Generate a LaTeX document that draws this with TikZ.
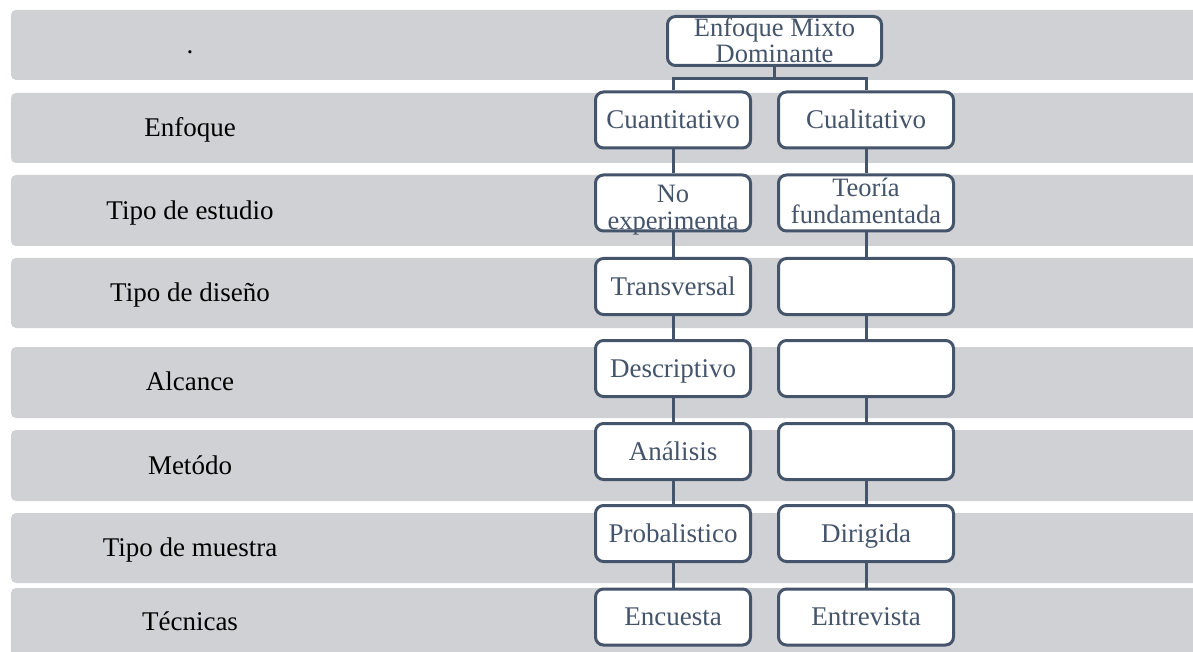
\documentclass[tikz,border=0pt]{standalone}
\usepackage{fontspec}
\setmainfont{Liberation Serif}
\definecolor{bandgray}{HTML}{D0D1D5}
\definecolor{slate}{HTML}{44546A}
\begin{document}
\begin{tikzpicture}[x=1pt,y=-1pt,
  bandbox/.style={fill=bandgray, rounded corners=5pt},
  lbl/.style={font=\fontsize{27}{27}\selectfont, text=black, inner sep=0pt, text height=17.8pt, text depth=0pt},
  cbox/.style={draw=slate, line width=3pt, rounded corners=8pt, fill=white, inner sep=0pt, minimum height=56pt, font=\fontsize{27}{27}\selectfont, text=slate, text height=17.8pt, text depth=0pt},
  lbox/.style={cbox, minimum width=155pt},
  rbox/.style={cbox, minimum width=175pt},
  btxt/.style={font=\fontsize{26.5}{27}\selectfont, text=slate, inner sep=0pt, anchor=base},
  conn/.style={draw=slate, line width=3pt}]
\useasboundingbox (0,0) rectangle (1193,652);
\clip (0,0) rectangle (1193,652);
\fill[white] (0,0) rectangle (1193,652);
% bands
\fill[bandbox] (11,10) rectangle (1230,80);
\fill[bandbox] (11,93) rectangle (1230,163);
\fill[bandbox] (11,175) rectangle (1230,246);
\fill[bandbox] (11,258) rectangle (1230,328);
\fill[bandbox] (11,347) rectangle (1230,418);
\fill[bandbox] (11,430) rectangle (1230,501);
\fill[bandbox] (11,513) rectangle (1230,583);
\fill[bandbox] (11,588) rectangle (1230,660);
% row labels
\node[lbl] (l1) at (190,45) {.};
\node[lbl] (l2) at (190,128) {Enfoque};
\node[lbl] (l3) at (190,210.5) {Tipo de estudio};
\node[lbl] (l4) at (190,293) {Tipo de diseño};
\node[lbl] (l5) at (190,382) {Alcance};
\node[lbl] (l6) at (190,465.5) {Metódo};
\node[lbl] (l7) at (190,548) {Tipo de muestra};
\node[lbl] (l8) at (190,622) {Técnicas};
% top box
\node[cbox, minimum width=214pt, minimum height=49pt] (top) at (774.5,41) {};
\node[btxt] (topa) at (774.5,37) {Enfoque Mixto};
\node[btxt] (topb) at (774.5,63) {Dominante};
% left column
\node[lbox] (q2) at (673,120) {Cuantitativo};
\node[lbox] (q3) at (673,203) {};
\node[lbox] (q4) at (673,286.5) {Transversal};
\node[lbox] (q5) at (673,368.5) {Descriptivo};
\node[lbox] (q6) at (673,451.5) {Análisis};
\node[lbox] (q7) at (673,533.5) {Probalistico};
\node[lbox] (q8) at (673,617) {Encuesta};
% right column
\node[rbox] (c2) at (866,120) {Cualitativo};
\node[rbox] (c3) at (866,203) {};
\node[rbox] (c4) at (866,286.5) {};
\node[rbox] (c5) at (866,368.5) {};
\node[rbox] (c6) at (866,451.5) {};
\node[rbox] (c7) at (866,533.5) {Dirigida};
\node[rbox] (c8) at (866,617) {Entrevista};
% two-line texts
\node[btxt] (q3a) at (673,203) {No};
\node[btxt] (q3b) at (673,230) {experimenta};
\node[btxt] (c3a) at (866,197) {Teoría};
\node[btxt] (c3b) at (866,224) {fundamentada};
% connectors
\coordinate (br) at (774.5,79);
\draw[conn] (top.south) -- (br);
\draw[conn] (q2.north) |- (br) -| (c2.north);
\foreach \a/\b in {2/3,3/4,4/5,5/6,6/7,7/8}{
  \draw[conn] (q\a.south) -- (q\b.north);
  \draw[conn] (c\a.south) -- (c\b.north);
}
\end{tikzpicture}
\end{document}
